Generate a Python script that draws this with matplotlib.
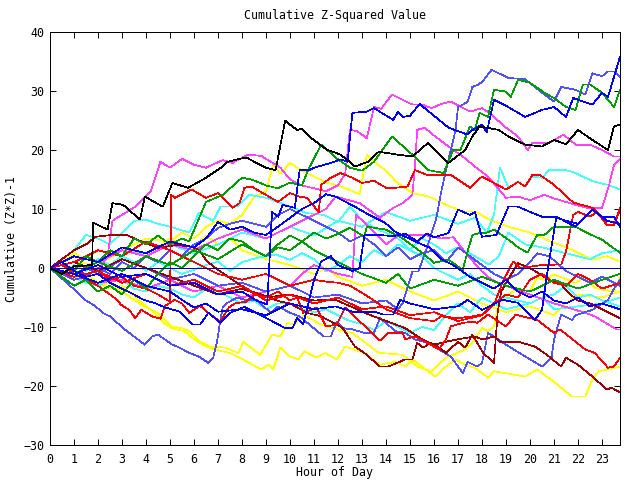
import matplotlib
matplotlib.use('Agg')
import matplotlib.pyplot as plt

plt.rcParams['font.family'] = ['DejaVu Sans Mono']

# ---- data: (hour, cumulative value) per series ----
k1 = [(0,0),(0.5,-1),(1,0.3),(1.75,0.5),(1.8,7.7),(2.4,6.5),(2.6,11),(3.05,10.7),(3.75,8.2),(3.95,12.1),(4.7,10.4),(5.1,14.4),(5.75,13.6),(6.5,15.3),(7.2,17.2),(7.4,18),(7.9,18.5),(8.2,18.7),(8.6,17.8),(9.0,17.0),(9.4,16.6),(9.8,25),(10,24.3),(10.3,23.4),(10.5,23.6),(10.8,22.3),(11.25,20.9),(11.55,20),(11.8,19.7),(12.1,19.2),(12.5,18),(12.7,17.2),(13.25,18),(13.7,19.7),(14.5,19.2),(15.1,18.9),(15.75,21.2),(16.6,17.8),(17.3,20),(17.6,22.3),(17.9,24),(18.7,23.4),(19.1,22.3),(19.8,20.9),(20.5,20.6),(21,21.7),(21.5,21),(22,23.4),(22.6,21.7),(23.25,20),(23.5,24),(23.75,24.3)]
g1 = [(0,0),(0.5,1),(1,-0.5),(1.5,2),(2,1),(2.5,3),(3,2),(3.5,5),(4,4),(4.5,5.5),(5,4),(5.5,5),(5.8,4.5),(6.5,11.2),(7.2,12.4),(8,15.3),(8.4,15),(9,14),(9.5,13.5),(10,14.5),(10.5,14),(10.75,16.6),(11.3,20.9),(12,18.4),(12.5,17),(13,16.5),(13.5,18),(14.25,22.3),(15.1,19.2),(15.75,16.6),(16.4,16.1),(16.8,20),(17.1,20),(17.5,24),(17.7,23.4),(17.9,26.3),(18.25,25.6),(18.5,30.2),(19,29.9),(19.2,29),(19.5,31.9),(20,31.4),(20.6,29.7),(21,28.8),(21.5,27.3),(21.9,26.8),(22.2,31.1),(22.5,31.1),(23,29.7),(23.5,27.3),(23.75,30.2)]
g2 = [(0,0),(1,-1),(2,1),(3,-0.5),(4,2),(5,0.5),(6,3),(7,1.5),(8,4),(9,2),(9.5,3.5),(10,3),(10.5,4.5),(11,6),(11.5,5),(11.9,5.6),(12.5,6.8),(13.1,5.3),(13.2,7),(14,6.5),(14.7,5),(15.5,2.6),(16,0.9),(16.6,1.4),(17.2,-0.3),(17.4,2.8),(17.6,5.6),(17.9,5.9),(18.2,6),(18.5,6.5),(19.2,4.5),(19.5,3.5),(19.9,2.6),(20.3,5.6),(20.6,5.6),(21,7),(21.9,7),(22.3,6.1),(23,4.8),(23.4,3.6),(23.75,2.6)]
g3 = [(0,0),(0.5,-1.5),(1,-3),(1.5,-2),(2,-4),(2.5,-3),(3,-4.5),(3.5,-2),(4,-3.5),(4.5,-1),(5,1),(5.5,0),(6,2),(6.5,4),(7,3),(7.5,5),(8,4.5),(8.5,3),(9,2),(9.5,4),(10,5.5),(10.5,4.5),(11,3),(11.5,2),(12,1),(13,-1),(14,-2.5),(14.5,-1),(15,-3.5),(16,-2),(17,-3),(18,-1.5),(19,-3),(20,-4),(21,-2),(22,-3.5),(23,-2),(23.75,-1)]
b1 = [(0,0),(1,-1),(2,0.5),(3,-1.5),(4,-1),(5,-3),(6,-2.5),(7,-4.5),(8,-4),(8.6,-5.5),(9.05,-6.2),(9.25,9.5),(9.5,8.7),(9.7,10.7),(10.2,10.2),(10.4,16.6),(10.8,16.6),(11,17),(11.7,17.8),(12.1,18.4),(12.4,18),(12.6,26.3),(13.2,26.5),(13.5,27.1),(14.3,25.1),(14.5,26.5),(14.7,25.6),(15,25.8),(15.4,27.8),(16.6,23.8),(17.4,22.6),(17.6,23.4),(18,24.3),(18.2,23),(18.5,28.5),(19,27.5),(19.8,25.6),(20.5,26.8),(21,27.3),(21.5,25.6),(21.8,28.8),(22.6,27.7),(23,29.7),(23.25,29),(23.75,35.8)]
b2 = [(0,0),(1,-1),(2,-2.5),(3,-1),(4,-3),(5,-4),(5.5,-5.4),(6,-6.7),(6.5,-6),(7,-7.4),(8,-7),(9,-8),(10,-6),(11,-7),(11.9,-6.5),(12.6,-7.4),(13.5,-7.4),(13.9,-7.9),(14.3,-7.9),(14.6,-5.4),(15,-6),(16,-7),(17,-6.5),(17.4,-5.4),(18,-7.1),(18.85,-5.4),(19.5,-5.9),(20.2,-8.8),(20.5,-7.1),(20.75,0),(21.1,8.7),(21.9,7),(22.6,9.9),(23,8.7),(23.5,8.7),(23.75,7)]
b3 = [(0,0),(0.5,1),(1,-0.5),(1.5,-1.5),(2,-1),(2.5,-2.5),(3,-3.5),(3.5,-4.5),(3.9,-5.4),(4.4,-6),(4.8,-6.7),(5.4,-7.4),(5.95,-9.6),(6.25,-9.6),(6.6,-7.6),(7.1,-9.3),(7.5,-7.6),(8.1,-6.6),(8.75,-7.9),(9.25,-9),(9.8,-10.2),(10.1,-10.2),(10.3,-8.5),(10.55,-9.6),(10.8,-5.4),(11,-2),(11.3,1.1),(11.7,2),(12,0.5),(12.6,-0.5),(12.9,0),(13.1,5.6),(13.7,5.6),(14.3,5.4),(14.8,5.8),(15.3,4.5),(15.7,5.8),(16,5.2),(16.6,5.9),(17,9.9),(17.5,9),(17.7,9.5),(18,5.3),(18.6,5.6),(19.1,10.4),(19.5,10.4),(20,9.5),(20.5,8.7),(21,8.7),(21.5,8),(22,7.5),(22.6,9.9),(23.2,8),(23.75,7.5)]
b4 = [(0,0),(1,2),(2,1),(3,3.5),(4,2.5),(5,4.5),(6,3.5),(6.5,5),(7,7.8),(7.5,6.5),(8,7),(8.5,6),(9,5.6),(9.5,7),(10,8.5),(10.5,10),(11,11),(11.5,12.5),(11.9,12.1),(12.7,10.4),(13.3,9),(13.95,7.7),(14.4,6.1),(15.2,4.5),(15.8,3.5),(16.3,1.5),(16.8,0.5),(17.5,-1.5),(18,-2.5),(18.5,-3.5),(19,-2),(19.5,-4),(20,-5),(20.5,-4),(21,-5.5),(21.5,-6),(22,-5),(22.5,-6.5),(23,-6),(23.75,-7)]
sb1 = [(0,0),(1,1),(2,-1),(3,1.5),(4,0),(5,-2),(6,-1),(7,-3),(8,-2.5),(9,-4),(10,-3),(11,-5),(12,-4.5),(13,-6),(14,-5.5),(14.5,-7),(14.7,-5.9),(15.1,-0.6),(15.35,-0.6),(15.75,4),(16.1,8.5),(16.3,12.9),(16.55,17.5),(16.7,20),(16.9,23.4),(17.0,27.3),(17.2,27.7),(17.4,28.2),(17.6,30.7),(17.8,31),(18,31.5),(18.4,33.6),(19.1,32.2),(19.8,32),(20.5,29.7),(21,28.2),(21.3,30.7),(21.9,30.2),(22.3,29.4),(22.6,33),(23.0,32.5),(23.25,33.3),(23.5,33.3),(23.75,32.4)]
sb2 = [(0,0),(0.5,-1.8),(1,-3.6),(1.45,-5.4),(1.9,-6.5),(2.2,-7.6),(2.5,-8.2),(3.05,-10.2),(3.4,-11.3),(3.95,-13),(4.25,-11.6),(4.5,-11.3),(5.1,-13),(5.4,-13.5),(5.8,-14.4),(6.2,-15),(6.6,-16.1),(6.8,-15.2),(6.95,-12.7),(7.1,-8.8),(7.2,-6.6),(7.4,-5.9),(7.8,-5),(8.2,-5.5),(8.6,-5.4),(9.2,-7.6),(9.5,-6.5),(10,-7.6),(10.4,-8.2),(11.4,-11.6),(11.7,-11.6),(11.95,-9.1),(12.2,-10.2),(12.6,-10.4),(13.1,-11),(13.5,-11),(13.75,-8.5),(14.4,-10.7),(14.8,-11),(15.2,-12.1),(15.75,-12.7),(16.2,-13.8),(16.7,-15),(17.2,-17.8),(17.4,-15.9),(17.8,-16.7),(18.0,-16.1),(18.25,-11),(18.5,-11.6),(19,-13),(19.8,-15),(20.5,-16.7),(20.9,-15.2),(21,-12.1),(21.3,-7.9),(21.75,-8.8),(21.9,-8),(22.6,-7.1),(23.25,-5.4),(23.5,-3.5),(23.75,-2)]
sb3 = [(0,0),(0.5,-1),(1,-2),(1.5,-1.5),(2,0),(2.5,-1),(3,1),(3.5,0),(4,2),(4.5,1),(5,3),(5.5,2),(6,4),(6.5,5),(7,6.8),(7.5,7.5),(8,8),(8.5,7.5),(9,7),(9.5,9),(10,10),(10.5,9),(11,8),(11.5,7),(12,6),(12.5,4.5),(13,5.5),(13.5,4),(14,2),(14.5,3.5),(15,1.5),(15.5,2.5),(16,3),(16.5,1),(17,3.5),(17.5,2),(18,0.5),(18.5,-1),(19,-2),(19.5,-1),(20,1),(20.3,2.5),(20.8,2),(21.5,-0.5),(22,-1.5),(22.5,-2.5),(23,-1.5),(23.75,-3)]
m1 = [(0,0),(1,1),(2,-0.5),(2.4,2),(2.6,8),(3,9),(3.6,10.5),(4.2,13),(4.6,18),(5,17),(5.5,18.5),(6,17.5),(6.5,17),(7.2,18.3),(7.6,17.8),(8.25,19.2),(8.8,19),(9.2,18),(9.6,17),(10,15),(10.5,14),(11,13.5),(11.5,13),(12,14),(12.3,16),(12.5,23.4),(12.8,23.2),(13.2,22),(13.5,27.3),(13.8,27),(14.25,29.4),(15.1,27.7),(15.5,27.7),(15.9,27.1),(16.3,27.8),(16.7,28.2),(17.5,26.5),(18,27.1),(18.3,26.3),(19,23.8),(19.5,22.3),(19.9,20),(20.1,21.2),(20.8,21.2),(21.4,22.6),(21.9,20.9),(22.5,20.9),(23,20),(23.5,18.9),(23.75,18.9)]
m2 = [(0,0),(1,-1),(2,1),(3,3),(4,2),(5,4),(6,3),(7,5),(8,6.5),(9,5),(10,7),(11,9),(11.5,10),(11.9,12.1),(12.9,11),(13.75,8.5),(14.3,10.2),(14.7,11),(15.1,12.4),(15.2,17),(15.3,23.4),(15.6,23.8),(16.05,22.3),(16.6,20.6),(17.2,18.9),(17.7,17.2),(18.25,15.5),(19,11.9),(19.5,12.1),(20,11.5),(20.6,12.4),(21,11.8),(21.9,10.7),(22.4,10.2),(23,10.2),(23.3,14.1),(23.5,17.5),(23.75,18.4)]
m3 = [(0,0),(1,-1),(2,-2.5),(3,-2),(4,-3.5),(5,-2),(6,-4),(7,-3),(8,-5),(9,-4),(10,-3),(10.5,-1),(11,0.5),(12,-1),(12.6,-1.5),(12.75,9),(13.3,7),(14,4),(14.5,5.5),(15.2,5.6),(15.6,5.6),(16.3,5),(16.8,5.2),(17.5,1.7),(18,-0.6),(18.4,-2),(19,-3),(20,-4.5),(21,-6),(22.3,-7.6),(22.7,-8.2),(23.6,-10.4),(23.75,-10.4)]
c1 = [(0,0),(1,2),(2,1),(3,3.5),(4,2),(5,4),(6,2.5),(7,4),(8,6),(9,5),(10,7),(11,5.5),(12,8),(13,7),(14,9.5),(15,8),(16,9),(17,7.5),(17.7,8.5),(18.2,6),(18.5,9),(18.75,17),(19.1,13.6),(19.5,14.6),(19.8,13.8),(20.1,15.5),(20.5,15.3),(20.8,16.6),(21.5,16.6),(21.9,16.1),(22.3,15.3),(22.7,14.6),(23.25,14.1),(23.75,13.3)]
c2 = [(0,0),(0.5,-1),(1,0.5),(1.5,-0.5),(2,1.5),(2.5,0.5),(3,2),(3.5,1),(4,-0.5),(4.5,1),(5,0),(5.5,-1),(6,-0.3),(6.5,0.5),(7,1.1),(7.5,-0.5),(8,1),(8.6,1.7),(9.4,2.3),(10,1.4),(10.5,2.5),(11,1.5),(11.5,-0.6),(12,0.5),(12.5,2),(13,1),(13.5,3),(14,2),(14.5,4),(15,3),(15.5,5),(16,4),(16.5,2.5),(17,3.5),(17.7,2),(18.3,0.6),(18.7,2),(19.1,6),(19.8,4),(20.5,3.5),(21.5,2.5),(22.5,1.5),(23,2.5),(23.75,3)]
c3 = [(0,0),(0.5,-1),(1,-1.5),(1.5,-2.5),(2,-3),(2.5,-2),(3,-2),(3.5,-3.5),(4,-4),(4.5,-3),(5,-3.5),(5.5,-4.5),(6,-5),(6.5,-3.5),(7,-4),(7.5,-5),(8,-6),(8.5,-5.5),(9,-7),(9.5,-6),(10,-6),(10.5,-7),(11,-7.5),(11.5,-7),(12,-8),(12.5,-9),(13,-9.5),(13.5,-10.5),(14,-9),(14.5,-10),(15,-11),(15.5,-10),(16,-10.5),(16.5,-8),(17,-6),(17.5,-7.5),(18,-5),(18.5,-6),(19,-7),(19.5,-6.5),(20,-6),(20.5,-5),(21,-4.5),(21.5,-3),(22,-5),(22.5,-4.5),(23,-5.5),(23.75,-6.5)]
c4 = [(0,0),(0.5,1.5),(1,3),(1.5,5.6),(2,5),(2.5,4),(3,6),(3.5,8),(4,8.2),(4.5,7.5),(5,7),(5.8,6),(6.2,9.3),(6.8,8),(7.1,10.4),(7.8,10.4),(8.3,12.4),(9,11.9),(9.6,11),(10,10.4),(10.7,9.3),(11.4,9),(12,7.8),(12.5,10.4),(13.1,7.7),(13.7,6.5),(14.5,5),(15,3),(15.5,2),(16,0),(16.5,-1),(17,-2),(17.5,-1),(18,-3),(18.5,-4.5),(19,-5),(20,-6),(20.5,-5),(21,-7),(22,-6.5),(23,-6),(23.75,-5)]
r1 = [(0,0),(0.5,0.5),(1,-0.5),(1.5,-1),(2,-0.5),(2.5,-2),(3,-1.5),(3.5,-3),(4,-3.5),(4.5,-4.5),(5.0,-5.7),(5.05,12.4),(5.2,11.9),(5.9,13.3),(6.5,11.9),(7,12.7),(7.6,10.2),(7.9,11),(8.1,13.6),(8.4,13.8),(9.5,11.2),(10,12.7),(10.4,12.1),(10.7,11.9),(11.2,9.5),(11.3,14.1),(11.7,15.3),(12.1,16.1),(12.6,15.3),(13,14.4),(13.5,14.8),(14,13.6),(14.4,13.6),(14.9,13.8),(15.2,16.6),(15.7,15.8),(16.7,15.8),(17.5,13.6),(18,15.5),(19,13.3),(19.5,14.6),(19.8,13.8),(20.1,15.8),(20.4,15.8),(21,14.1),(21.8,11.1),(22.6,10.2),(23,8.7),(23.2,7.3),(23.5,7.3),(23.75,10.2)]
r2 = [(0,0),(1,-1.5),(2,-0.5),(3,-2.5),(4,-1),(5,-3),(6,-2),(7,-4),(8,-3),(9,-5.5),(10,-4.5),(11,-6),(12,-5),(13,-7),(14,-6.5),(15,-8),(16,-7.5),(17,-9),(17.5,-8.5),(18,-8),(18.5,-6.2),(18.9,-2),(19.3,1.1),(19.6,0),(20.5,0.5),(21.3,0.6),(21.5,2.8),(21.8,9),(22,9.5),(22.5,8.7),(22.8,9.5),(23.2,7.3),(23.5,7.3),(23.75,9.9)]
r3 = [(0,0),(0.5,0.5),(1,-1),(1.5,-2),(2,-3),(2.5,-4.5),(2.8,-5.4),(2.95,-6.2),(3.3,-7.1),(3.55,-8.5),(3.8,-7.1),(4.25,-8.2),(4.6,-8.6),(4.8,-6.4),(5.2,-5.4),(5.5,-6),(5.8,-7.6),(6.25,-6.4),(6.6,-7.6),(7.1,-9.1),(7.45,-6.7),(7.7,-6),(8.2,-5.7),(8.5,-4.5),(9,-5),(9.5,-4),(10,-5.5),(10.3,-5),(10.55,-7.6),(11.1,-6.7),(11.5,-9.9),(11.95,-9.6),(12.3,-6.7),(13.75,-12.3),(14.1,-11),(14.7,-11),(14.8,-12.1),(15.2,-11.6),(15.6,-12.4),(16.2,-13.8),(16.5,-12.1),(16.7,-9.9),(17.2,-9.3),(17.6,-9.1),(17.8,-9.3),(18.25,-7.9),(19,-9.9),(19.4,-7.9),(20.3,-8.8),(21,-11),(21.25,-10.4),(22.3,-13.8),(22.7,-14.4),(23.25,-16.9),(23.5,-16.7),(23.75,-15.2)]
r4 = [(0,0),(1,1),(2,3),(3,2),(4,4.5),(5,3),(6,1),(7,-1),(8,-2),(9,-1),(10,-3),(11,-2),(11.5,-2.3),(12,-2.5),(12.5,-3),(13,-4.2),(13.5,-5.5),(14,-7),(15,-8.5),(16,-9),(16.3,-8.2),(17,-8.5),(17.6,-8.2),(18,-7.9),(18.5,-6),(19,-4.5),(19.5,-5),(20,-2),(20.5,-1),(21,-2.5),(21.5,-3),(22,-1),(22.5,-2),(23,-3.5),(23.75,-2.5)]
dr1 = [(0,0),(1,1),(2,-0.5),(3,1.5),(4,0),(5,-1.5),(6,-3),(7,-4.5),(8,-3.5),(9,-5),(10,-4.5),(11,-5.5),(11.9,-5.4),(13.3,-7.9),(14.8,-10.2),(15.5,-12.1),(16,-13),(16.5,-12.5),(17.1,-12),(17.7,-11.6),(18,-12.1),(18.5,-11.6),(18.75,-12.5),(19.6,-12.6),(20.2,-13.3),(20.7,-14.7),(21.3,-16.7),(21.5,-15.2),(22,-16.4),(22.6,-18.4),(23.2,-20.6),(23.4,-20.3),(23.75,-21.1)]
dr2 = [(0,0),(0.5,1.5),(1,3),(1.5,4),(1.9,5.3),(2.6,5.6),(3.2,5.6),(3.8,4.5),(4.5,3.4),(5.3,3.9),(5.9,3.6),(6.2,3.1),(6.55,1.1),(7.0,-0.3),(7.5,-1.7),(8.2,-3.7),(9.0,-4.8),(9.6,-5.7),(10.0,-6),(10.7,-7.6),(11.3,-8.2),(11.95,-9.6),(12.2,-10.2),(12.7,-13.3),(13.1,-14.4),(13.75,-16.7),(14.1,-16.7),(14.8,-15.5),(15.1,-15.5),(15.3,-12.7),(15.55,-13.5),(15.85,-12.7),(16.05,-13),(16.5,-14.4),(17,-12.5),(17.3,-13.5),(17.6,-11.3),(18.05,-14.4),(18.5,-16.1),(18.65,-7.6),(18.8,-4),(19.0,-2.5),(19.5,0.8),(20,0),(20.8,-2),(21.3,-2.8),(21.6,-4.2),(22,-5.5),(22.5,-6),(23,-7),(23.5,-8),(23.75,-8.5)]
y1 = [(0,0),(0.5,-1),(1,-2),(1.5,-1.5),(2,-3),(2.5,-2.5),(3,-4),(3.5,-5.4),(3.9,-6.5),(4.5,-7.6),(5.05,-9.9),(5.5,-10.2),(5.8,-10.7),(6.25,-12.5),(6.65,-13.3),(7.3,-13.5),(7.85,-14.4),(8.05,-12.5),(8.75,-14.7),(9.25,-11.3),(9.6,-11.6),(9.9,-9.3),(10.2,-9.6),(10.4,-8.5),(10.6,-8),(11.3,-9.6),(11.95,-10.4),(12.6,-11),(13.7,-14.4),(14.7,-14.7),(15.3,-16.7),(15.9,-17.5),(16.5,-15.2),(17.3,-13.8),(17.6,-12.7),(18,-10.2),(18.25,-10.7),(18.5,-9.9),(18.7,-5.9),(19.1,-4.5),(19.5,-3.5),(20,-4),(20.3,-1.6),(20.6,-2),(21,-1.1),(21.9,-2.5),(22.3,-1.5),(22.7,-3.4),(23.5,-4),(23.75,-1.6)]
y2 = [(0,0),(0.5,-0.5),(1,-1.5),(1.5,-1),(2,-2.5),(2.5,-3.5),(3,-3),(3.8,-5.8),(4.35,-7.6),(4.75,-9.3),(5.05,-10.2),(5.6,-10.7),(6.0,-12.1),(6.5,-13.3),(6.85,-13.8),(7.5,-14.4),(7.9,-15.2),(8.8,-17.2),(9.1,-16.4),(9.3,-17.2),(9.6,-13.5),(10,-15),(10.35,-15.5),(10.6,-14.1),(11.1,-15.2),(11.45,-14.4),(11.95,-15.5),(12.3,-13.3),(13.1,-14.4),(13.75,-16.4),(14.4,-15.9),(14.8,-16.7),(15.1,-15.5),(16.05,-18.4),(16.5,-16.7),(16.9,-15.5),(17.3,-16.4),(17.7,-16.9),(18.25,-18.6),(18.5,-17.5),(19.8,-18.4),(20.3,-17.2),(21,-19.3),(21.75,-21.8),(22.3,-21.8),(22.6,-18.9),(22.85,-17.5),(23.25,-17.2),(23.75,-16.7)]
y3 = [(0,0),(1,1),(2,0.5),(3,3),(4,5),(5,4.5),(5.5,6),(6,5),(6.5,7),(7,8),(7.5,7.5),(8,9),(8.5,12),(9,13),(9.3,17.5),(9.6,16),(10,17.8),(10.5,16.5),(11,15.5),(11.5,14.5),(12,14),(12.5,13.2),(12.9,12.5),(13.2,19.2),(13.5,18),(14,16.5),(14.4,14.7),(15.1,12.7),(15.8,12.1),(16.5,10.7),(17.2,9.6),(17.7,9.6),(18.3,8.2),(19.1,7),(20,6),(21,4.3),(21.8,3),(22.6,1.4),(23.2,2),(23.75,1.1)]
y4 = [(0,0),(0.5,1),(1,2.5),(1.5,1.5),(2,3),(3,2),(4,4.5),(4.5,3.5),(5,5),(5.5,4),(6,3.5),(6.5,5.5),(7,4),(7.5,5),(8,3),(9,1.5),(10,0.5),(11,-1),(11.5,0),(12,-1.5),(13,-3),(14,-2),(15,-4),(16,-5.5),(17,-4),(18,-6),(19,-7.5),(20,-6.5),(21,-8),(21.5,-6),(22,-4.5),(23,-5),(23.75,-4)]

RED, GREEN, BLUE, MAGENTA, CYAN = '#ff0000', '#00a000', '#0000ff', '#ff40ff', '#40ffff'
YELLOW, BLACK, DARKRED, SLATE = '#ffff00', '#000000', '#a00000', '#5050ff'

series = [
    (y2, YELLOW), (y1, YELLOW), (y4, YELLOW), (y3, YELLOW),
    (c3, CYAN), (c2, CYAN), (c4, CYAN), (c1, CYAN),
    (m3, MAGENTA), (m2, MAGENTA), (m1, MAGENTA),
    (sb3, SLATE), (sb2, SLATE), (sb1, SLATE),
    (dr1, DARKRED), (dr2, DARKRED),
    (r4, RED), (r3, RED), (r2, RED), (r1, RED),
    (g3, GREEN), (g2, GREEN), (g1, GREEN),
    (b4, BLUE), (b3, BLUE), (b2, BLUE), (b1, BLUE),
    (k1, BLACK),
]

fig = plt.figure(figsize=(6.4, 4.8), dpi=100)
ax = fig.add_axes([50/640, 35/480, 570/640, 413/480])
for pts, col in series:
    hrs = [p[0] for p in pts]
    vals = [p[1] for p in pts]
    ax.plot(hrs, vals, color=col, lw=0.5, antialiased=False)
ax.axhline(0, color='#0000b0', lw=0.5, antialiased=False)

ax.set_xlim(0, 23.75)
ax.set_ylim(-30, 40)
ax.set_xticks(range(24))
ax.set_yticks(range(-30, 41, 10))
ax.tick_params(direction='in', length=4, width=0.7, top=True, right=True,
               labelsize=8.4, colors='black')
ax.tick_params(axis='x', pad=6)
ax.tick_params(axis='y', pad=4)
for s in ax.spines.values():
    s.set_linewidth(0.72)
ax.set_title('Cumulative Z-Squared Value', fontsize=8.4, pad=9)
ax.set_xlabel('Hour of Day', fontsize=8.4, labelpad=0)
ax.set_ylabel('Cumulative (Z*Z)-1', fontsize=8.4, labelpad=4)

fig.savefig('out.png', dpi=100)
